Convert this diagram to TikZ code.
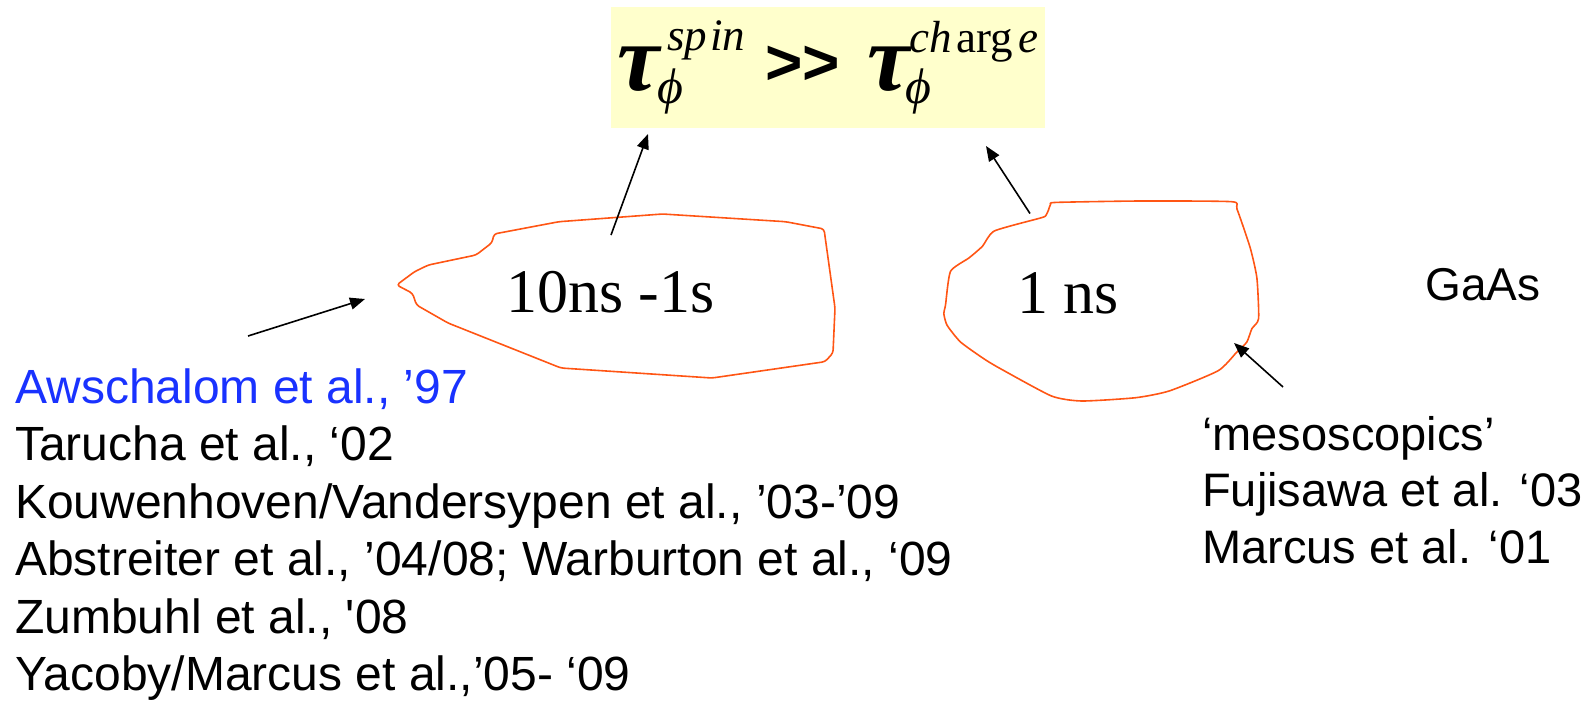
\documentclass[tikz,border=0pt]{standalone}
\usepackage{fontspec}
\setmainfont{Liberation Serif}
\newfontfamily\sansA{Liberation Sans}
\usetikzlibrary{arrows.meta}
\definecolor{boxyellow}{RGB}{255,255,204}
\definecolor{blobred}{RGB}{255,85,20}
\definecolor{refblue}{RGB}{25,50,255}
\newcommand\tauF{\bfseries\itshape\fontsize{95}{95}\selectfont}
\newcommand\scrF{\itshape\fontsize{45}{45}\selectfont}
\newcommand\phiF{\itshape\fontsize{50}{50}\selectfont}
\newcommand\gtF{\sansA\bfseries\fontsize{64}{64}\selectfont}
\newcommand\straightq{{\addfontfeatures{Ligatures=TeXOff}'}}
\tikzset{
  formbox/.style={rectangle, fill=boxyellow, draw=none, minimum width=434pt, minimum height=121pt, inner sep=0pt},
  blob/.style={draw=blobred, line width=1.6pt, line join=round, rounded corners=3pt},
  rblob/.style={draw=blobred, line width=1.6pt, line join=round},
  pointer/.style={draw=black, line width=1.6pt, -{Triangle[length=15pt,width=12pt]}},
  timetext/.style={anchor=base west, inner sep=0pt, font=\fontsize{62}{62}\selectfont},
  reftext/.style={anchor=base west, inner sep=0pt, font=\sansA\fontsize{48}{48}\selectfont},
  rreftext/.style={anchor=base west, inner sep=0pt, font=\sansA\fontsize{47}{47}\selectfont},
}
\begin{document}
\begin{tikzpicture}[x=1pt,y=-1pt]
\useasboundingbox (0,0) rectangle (1591,702);
% formula box
\node[formbox] (box) at (828,67.5) {};
\node[anchor=base west, inner sep=0pt] (eq) at (617,90) {%
\rlap{\tauF τ}%
\rlap{\kern50pt\raisebox{40pt}{\scrF sp\kern3pt in}}%
\rlap{\kern40pt\raisebox{-13pt}{\phiF ϕ}}%
\rlap{\kern148pt\raisebox{6pt}{\gtF >\kern0pt>}}%
\rlap{\kern250pt\tauF τ}%
\rlap{\kern292pt\raisebox{38pt}{\scrF ch\kern5pt{\upshape arg}\kern5pt e}}%
\rlap{\kern288pt\raisebox{-13pt}{\phiF ϕ}}%
\kern413pt};
% blobs
\draw[blob] (396.7,285) -- (412.5,293.3) -- (416.5,305) -- (448,323) -- (561,368)
  -- (712,378) -- (825,361.7) -- (833,353) -- (835,308) -- (824,229) -- (785.6,221.7)
  -- (662.5,214) -- (559,221.7) -- (494,234) -- (492,242.7) -- (476,255) -- (428.4,265)
  -- (414.5,271.7) -- cycle;
\draw[rblob] plot[smooth cycle, tension=0.35] coordinates {
  (1039.7,218.2) (1045.5,216) (1048.5,210) (1050.5,204.5) (1056,202.4) (1140,201)
  (1231.6,201.7) (1237,209.1) (1250.2,247.8) (1256.9,278.1) (1258.6,318.6) (1251.9,328.6)
  (1246.8,342.1) (1236.7,352.2) (1218.2,370.7) (1169.4,390.9) (1135.7,397.7) (1081.8,401)
  (1051.5,396) (1001,369) (984.2,359) (960.6,342.1) (947.1,325.3) (943.8,313.5)
  (945.5,305.1) (950.5,271.4) (969,257.9) (982.5,246.2) (994.3,231)};
% texts
\node[timetext] (t1) at (506,312) {10ns -1s};
\node[timetext] (t2) at (1017,313) {1 ns};
\node[anchor=base west, inner sep=0pt, font=\sansA\fontsize{46}{46}\selectfont] (gaas) at (1425,300) {GaAs};
\node[reftext, text=refblue] (r1) at (15,403) {Awschalom et al., ’97};
\node[reftext] (r2) at (15,460.5) {Tarucha et al., ‘02};
\node[reftext] (r3) at (15,518) {Kouwenhoven/Vandersypen et al., ’03-’09};
\node[reftext] (r4) at (15,575.5) {Abstreiter et al., ’04/08; Warburton et al., ‘09};
\node[reftext] (r5) at (15,633) {Zumbuhl et al., \straightq08};
\node[reftext] (r6) at (15,690.5) {Yacoby/Marcus et al.,’05- ‘09};
\node[rreftext] (m1) at (1202,450) {‘mesoscopics’};
\node[rreftext] (m2) at (1202,506.5) {Fujisawa et al. ‘03};
\node[rreftext] (m3) at (1202,563) {Marcus et al. ‘01};
% arrows
\coordinate (a1s) at (611,235); \coordinate (a1t) at (648,134);
\coordinate (a2s) at (1030,213.5); \coordinate (a2t) at (986,146);
\coordinate (a3s) at (248,336); \coordinate (a3t) at (365,299);
\coordinate (a4s) at (1283,387); \coordinate (a4t) at (1234,343);
\draw[pointer] (a1s) -- (a1t);
\draw[pointer] (a2s) -- (a2t);
\draw[pointer] (a3s) -- (a3t);
\draw[pointer] (a4s) -- (a4t);
\end{tikzpicture}
\end{document}
